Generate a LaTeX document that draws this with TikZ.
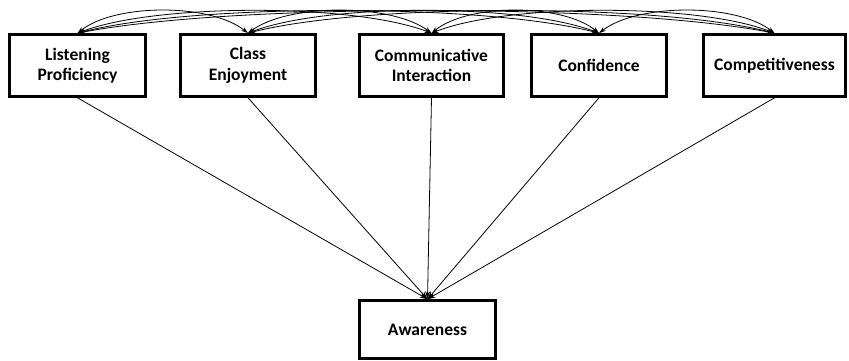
\documentclass[tikz,border=0pt]{standalone}
\usepackage{fontspec}
\setmainfont{Carlito}
\usetikzlibrary{arrows.meta,calc}
\begin{document}
\begin{tikzpicture}[x=1pt,y=1pt,
  box/.style={draw, line width=2.6pt, minimum height=62pt, align=center, inner sep=0pt,
    font=\bfseries\fontsize{17.5}{20.5}\selectfont},
  path/.style={line width=0.8pt, -{Stealth[length=8pt,width=5pt]}},
  cov/.style={line width=0.8pt, {Stealth[length=7pt,width=4.5pt]}-{Stealth[length=7pt,width=4.5pt]}}]
\useasboundingbox (0,0) rectangle (849,361);
\node[box, minimum width=136pt] (b1) at (77.5,295.5) {Listening\\Proficiency};
\node[box, minimum width=135pt] (b2) at (248,295.5) {Class\\Enjoyment};
\node[box, minimum width=144pt] (b3) at (431.5,295.5) {Communicative\\Interaction};
\node[box, minimum width=135pt] (b4) at (599,295.5) {Confidence};
\node[box, minimum width=142pt] (b5) at (774.5,295.5) {Competitiveness};
\node[box, minimum width=136pt, minimum height=58pt] (aw) at (427.5,31.5) {Awareness};
\foreach \i in {1,...,5} \draw[path] (b\i.south) -- (aw.north);
\foreach \a/\b in {1/2,1/3,1/4,1/5,2/3,2/4,2/5,3/4,3/5,4/5} {
  \draw[cov] (b\a.north) .. controls ($(b\a.north)!0.22!(b\b.north)+(0,30)$) and ($(b\b.north)!0.22!(b\a.north)+(0,30)$) .. (b\b.north);
}
\end{tikzpicture}
\end{document}
